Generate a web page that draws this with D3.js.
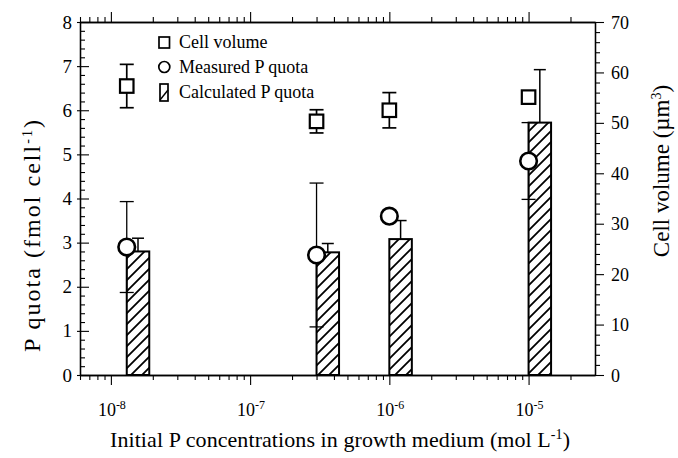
<!DOCTYPE html>
<html><head><meta charset="utf-8">
<script src="https://cdn.jsdelivr.net/npm/d3@7"></script>
<style>body{margin:0;background:#fff}svg{display:block}</style>
</head><body>
<svg id="c" width="678" height="458"></svg>
<script>
// ---- data ----
const concentrations = [1.3e-8, 3e-7, 1e-6, 1e-5];
const cellVolume = [57.3, 50.3, 52.5, 55.1];
const cellVolumeErr = [4.3, 2.3, 3.5, 1.0];
const measuredP = [2.9, 2.72, 3.6, 4.85];
const measuredPErr = [1.03, 1.63, 0.1, 0.87];
const calculatedP = [2.8, 2.78, 3.08, 5.72];
const calculatedPErr = [0.3, 0.2, 0.42, 1.2];
const xTickExponents = [-8, -7, -6, -5];
const leftTicks = [0,1,2,3,4,5,6,7,8];
const rightTicks = [0,10,20,30,40,50,60,70];
const legendLabels = ["Cell volume", "Measured P quota", "Calculated P quota"];

const FONT = "'Liberation Serif','Times New Roman',serif";
const svg = d3.select("#c");
const L = 80, R = 595, T = 22, B = 375;
const x = d3.scaleLog().domain([6e-9, 3e-5]).range([L, R]);
const yL = d3.scaleLinear().domain([0, 8]).range([B, T]);
const yR = d3.scaleLinear().domain([0, 70]).range([B, T]);

// hatch pattern
const defs = svg.append("defs");
const pat = defs.append("pattern").attr("id","hatch").attr("patternUnits","userSpaceOnUse")
  .attr("width",11).attr("height",11);
pat.append("path").attr("d","M-1,1 L1,-1 M0,11 L11,0 M10,12 L12,10")
  .attr("stroke","#000").attr("stroke-width",1.8);

const g = svg.append("g");

// frame axes
const minorX = [];
for (let e = -9; e <= -5; e++) for (let m = 1; m <= 9; m++) {
  const v = m * Math.pow(10, e);
  if (v >= 6e-9 && v <= 3e-5 && m !== 1) minorX.push(v);
}
const majorX = xTickExponents.map(e => Math.pow(10, e));

g.append("g").attr("transform",`translate(0,${B})`)
  .call(d3.axisBottom(x).tickValues(majorX).tickFormat("").tickSize(10).tickSizeOuter(0));
g.append("g").attr("transform",`translate(0,${B})`)
  .call(d3.axisBottom(x).tickValues(minorX).tickFormat("").tickSize(5).tickSizeOuter(0));
g.append("g").attr("transform",`translate(0,${T})`)
  .call(d3.axisTop(x).tickValues(majorX).tickFormat("").tickSize(10).tickSizeOuter(0));
g.append("g").attr("transform",`translate(0,${T})`)
  .call(d3.axisTop(x).tickValues(minorX).tickFormat("").tickSize(5).tickSizeOuter(0));

const minorL = d3.range(0, 8.001, 0.2).filter(v => Math.abs(v - Math.round(v)) > 1e-6);
const axL = g.append("g").attr("transform",`translate(${L},0)`)
  .call(d3.axisRight(yL).tickValues(leftTicks).tickFormat("").tickSize(9).tickSizeOuter(0));
g.append("g").attr("transform",`translate(${L},0)`)
  .call(d3.axisRight(yL).tickValues(minorL).tickFormat("").tickSize(5).tickSizeOuter(0));
axL.selectAll(".tick line").attr("x1",-3);

const minorR = d3.range(0, 70.001, 2).filter(v => v % 10 !== 0);
g.append("g").attr("transform",`translate(${R},0)`)
  .call(d3.axisRight(yR).tickValues(rightTicks).tickFormat("").tickSize(9).tickSizeOuter(0));
g.append("g").attr("transform",`translate(${R},0)`)
  .call(d3.axisRight(yR).tickValues(minorR).tickFormat("").tickSize(5).tickSizeOuter(0));

g.selectAll(".domain").attr("stroke","#000").attr("stroke-width",1.3);
g.selectAll(".tick line").attr("stroke","#000").attr("stroke-width",1.1);

// tick labels
g.selectAll(".ylab").data(leftTicks).join("text")
  .attr("x", 72).attr("y", d => yL(d) + 6.5).attr("text-anchor","end")
  .attr("font-family",FONT).attr("font-size",19).text(d => d);
g.selectAll(".rlab").data(rightTicks).join("text")
  .attr("x", 611).attr("y", d => yR(d) + 6.5).attr("text-anchor","start")
  .attr("font-family",FONT).attr("font-size",18).text(d => d);
const xl = g.selectAll(".xlab").data(xTickExponents).join("text")
  .attr("x", d => x(Math.pow(10,d)) + 1).attr("y", 416).attr("text-anchor","middle")
  .attr("font-family",FONT).attr("font-size",18);
xl.append("tspan").text("10");
xl.append("tspan").attr("dy",-7).attr("font-size",12).text(d => d);

// axis titles
function titled(t, main, sup, close) {
  t.append("tspan").text(main);
  t.append("tspan").attr("dy",-8).attr("font-size",14).text(sup);
  t.append("tspan").attr("dy",8).text(close);
}
g.append("text").attr("transform",`translate(40,236) rotate(-90)`)
  .attr("text-anchor","middle").attr("font-family",FONT).attr("font-size",24)
  .attr("textLength",232).attr("lengthAdjust","spacing")
  .call(t => titled(t, "P quota (fmol cell", "-1", ")"));
g.append("text").attr("transform",`translate(669,171) rotate(-90)`)
  .attr("text-anchor","middle").attr("font-family",FONT).attr("font-size",23)
  .call(t => titled(t, "Cell volume (\u00b5m", "3", ")"));
g.append("text").attr("x", 340).attr("y", 447)
  .attr("text-anchor","middle").attr("font-family",FONT).attr("font-size",22)
  .attr("textLength",460).attr("lengthAdjust","spacing")
  .call(t => titled(t, "Initial P concentrations in growth medium (mol L", "-1", ")"));

// data
const idx = d3.range(concentrations.length);
const BW = 22.5;
const ink = "#000";
function errBar(sel, cx, y0, y1, cap, sw) {
  sel.append("line").attr("x1",cx).attr("x2",cx).attr("y1",y0).attr("y2",y1).attr("stroke",ink).attr("stroke-width",sw);
  sel.append("line").attr("x1",cx-cap/2).attr("x2",cx+cap/2).attr("y1",y1).attr("y2",y1).attr("stroke",ink).attr("stroke-width",sw);
}

// measured P error bars (behind bars)
const circErr = g.append("g");
idx.forEach(i => {
  const cx = x(concentrations[i]);
  errBar(circErr, cx, yL(measuredP[i]), yL(measuredP[i] + measuredPErr[i]), 14, 1.3);
  errBar(circErr, cx, yL(measuredP[i]), yL(measuredP[i] - measuredPErr[i]), 14, 1.3);
});

// calculated bars
const bars = g.append("g");
bars.selectAll("rect").data(idx).join("rect")
  .attr("x", i => x(concentrations[i])).attr("width", BW)
  .attr("y", i => yL(calculatedP[i])).attr("height", i => B - yL(calculatedP[i]))
  .attr("fill","url(#hatch)").attr("stroke",ink).attr("stroke-width",2);
idx.forEach(i => {
  const cx = x(concentrations[i]) + BW/2;
  errBar(bars, cx, yL(calculatedP[i]), yL(calculatedP[i] + calculatedPErr[i]), 12, 1.5);
});

// measured P circles
g.append("g").selectAll("circle").data(idx).join("circle")
  .attr("cx", i => x(concentrations[i])).attr("cy", i => yL(measuredP[i])).attr("r", 8.3)
  .attr("fill","#fff").attr("stroke",ink).attr("stroke-width",2.6);

// cell volume squares
const sq = g.append("g");
idx.forEach(i => {
  const cx = x(concentrations[i]);
  errBar(sq, cx, yR(cellVolume[i]), yR(cellVolume[i] + cellVolumeErr[i]), 14, 1.7);
  errBar(sq, cx, yR(cellVolume[i]), yR(cellVolume[i] - cellVolumeErr[i]), 14, 1.7);
});
const S = 13.5;
sq.selectAll("rect").data(idx).join("rect")
  .attr("x", i => x(concentrations[i]) - S/2).attr("y", i => yR(cellVolume[i]) - S/2)
  .attr("width", S).attr("height", S)
  .attr("fill","#fff").attr("stroke",ink).attr("stroke-width",2.2);

// legend
const lg = g.append("g");
const ly = [48, 73, 98];
lg.append("rect").attr("x",159).attr("y",ly[0]-11).attr("width",10.5).attr("height",11)
  .attr("fill","#fff").attr("stroke",ink).attr("stroke-width",1.7);
lg.append("circle").attr("cx",164.3).attr("cy",ly[1]-6).attr("r",5.5)
  .attr("fill","#fff").attr("stroke",ink).attr("stroke-width",1.7);
lg.append("rect").attr("x",160).attr("y",ly[2]-14).attr("width",8).attr("height",17)
  .attr("fill","#fff").attr("stroke",ink).attr("stroke-width",1.7);
lg.append("line").attr("x1",160).attr("y1",ly[2]+2).attr("x2",168).attr("y2",ly[2]-8)
  .attr("stroke",ink).attr("stroke-width",1.4);
lg.selectAll("text").data(legendLabels).join("text")
  .attr("x",179).attr("y",(d,i)=>ly[i]).attr("font-family",FONT).attr("font-size",18).text(d=>d);
</script>
</body></html>
